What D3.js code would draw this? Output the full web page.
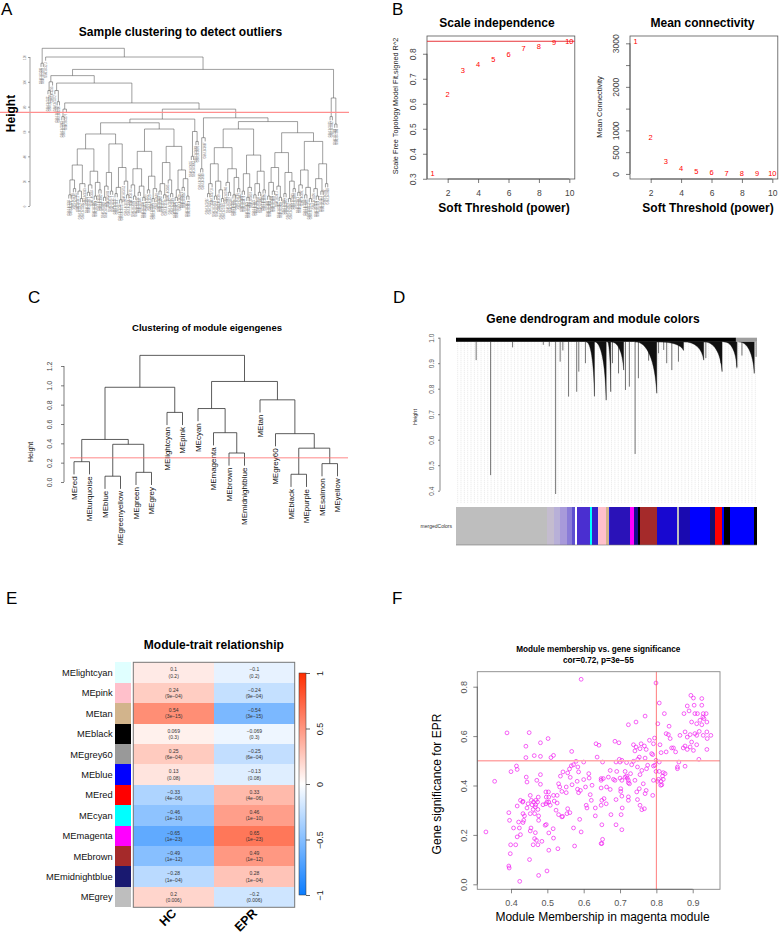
<!DOCTYPE html>
<html>
<head>
<meta charset="utf-8">
<script src="https://cdn.jsdelivr.net/npm/d3@7/dist/d3.min.js"></script>
<style>
  body { margin: 0; background: #fff; }
  svg { font-family: "Liberation Sans", Arial, Helvetica, sans-serif; display: block; }
</style>
</head>
<body>
<div id="figure"></div>
<script>
// ================= data =================

// A: sample clustering (heights in plot units)
const treeP = "((((x,x)9,(x,x)14)21,((x,(x,x)6)12,x)18)33,(((x,x)11,x)17,((x,x)8,(x,x)13)19)28)46";
const treeQ = "((((x,x)7,x)16,(x,x)12)27,(((x,x)10,(x,x)5)15,(x,(x,x)9)20)31)50";
const treeR = "(((x,(x,x)8)17,((x,x)11,(x,x)7)16)30,((x,x)13,((x,x)6,x)14)24)44";
const treeS = "((((x,x)12,(x,x)9)18,(x,(x,x)10)21)35,(((x,x)7,x)13,((x,x)15,(x,x)8)22)29)48";
const treeT = "((((x,x)10,x)18,((x,x)8,(x,(x,x)6)13)20)34,((x,(x,x)11)19,((x,x)9,(x,x)14)23)30)47";
const treeU = "(((x,x)12,((x,x)7,x)15)26,(((x,x)9,(x,x)11)18,(x,x)13)28)41";
const treeV = "((((x,x)8,(x,x)12)19,(x,(x,x)7)16)31,((x,x)10,((x,x)6,(x,x)14)20)27)43";
const treeW = "((((x,x)11,x)17,((x,x)9,(x,x)6)15)29,(((x,(x,x)8)14,(x,x)12)22,(x,x)18)34)52";
const treeD1 = `(((${treeP},${treeQ})58,(${treeR},${treeS})62)67,((x,x)40,(x,x)52)60)70`;
const treeD2 = `(((x,x)30,x)55,((${treeT},${treeU})62,(${treeV},${treeW})59)68)71`;
const treeMain = `(((x,x)93,x)100,((x,(x,x)84)93,(((x,x)72,x)78,(${treeD1},${treeD2})78)83)99)105`;
const sampleTree = `((x,x)115,(x,(${treeMain},((x,x)72,(x,x)66)87)110)120)127`;
const sampleTicks = [0, 20, 40, 60, 80, 100, 120];
const sampleCut = 75.4;

// B: soft threshold
const powers = [1, 2, 3, 4, 5, 6, 7, 8, 9, 10];
const scaleFitR2 = [0.32, 0.639, 0.732, 0.759, 0.779, 0.799, 0.821, 0.831, 0.845, 0.848];
const meanConnectivity = [3046, 836, 292, 122, 53, 30, 23, 12, 8, 5];
const r2Cut = 0.85;
const r2Ticks = [0.3, 0.4, 0.5, 0.6, 0.7, 0.8];
const kTicks = [0, 500, 1000, 1500, 2000, 2500, 3000];
const powerTicks = [2, 4, 6, 8, 10];

// C: module eigengene clustering
const eigengeneTree = "((((MEred,MEturquoise)0.21,((MEblue,MEgreenyellow)0.06,(MEgreen,MEgrey)0.10)0.39)0.44,(MElightcyan,MEpink)0.72)0.98,((MEcyan,(MEmagenta,(MEbrown,MEmidnightblue)0.30)0.51)0.76,(MEtan,(MEgrey60,((MEblack,MEpurple)0.08,(MEsalmon,MEyellow)0.19)0.35)0.50)0.85)1.04)1.31";
const mergeCut = 0.25;
const eigenTicks = [0, 0.2, 0.4, 0.6, 0.8, 1.0, 1.2];

// D: gene dendrogram (position along gene order 0..1, lowest height)
const geneDrops = [
  [0.067, 0.912], [0.115, 0.461], [0.188, 0.962], [0.29, 0.972], [0.31, 0.966], [0.331, 0.387],
  [0.346, 0.906], [0.355, 0.95], [0.374, 0.769], [0.401, 0.788], [0.408, 0.867], [0.43, 0.9],
  [0.52, 0.9], [0.54, 0.86], [0.563, 0.795], [0.576, 0.808], [0.595, 0.544], [0.606, 0.841],
  [0.64, 0.91], [0.673, 0.939], [0.69, 0.952], [0.70, 0.9], [0.717, 0.873], [0.739, 0.906],
  [0.83, 0.92], [0.88, 0.90], [0.933, 0.880], [0.95, 0.93], [0.997, 0.925]
];
const geneClusters = [
  [0.432, 0.46, 0.77], [0.46, 0.499, 0.755], [0.503, 0.514, 0.788], [0.514, 0.557, 0.873],
  [0.595, 0.667, 0.782], [0.667, 0.756, 0.95], [0.756, 0.823, 0.912], [0.823, 0.884, 0.867],
  [0.889, 0.933, 0.886], [0.939, 0.991, 0.86]
];
const geneTopBand = [[0, 0.93, "#000000"], [0.93, 1, "#9e9e9e"]];
const geneTicks = [0.4, 0.5, 0.6, 0.7, 0.8, 0.9, 1.0];
const moduleStrip = [
  [0, 0.302, "#BEBEBE"], [0.302, 0.324, "#C4BCCF"], [0.324, 0.346, "#B8B0D8"], [0.346, 0.368, "#A89ADA"],
  [0.368, 0.385, "#8A7CD8"], [0.385, 0.396, "#5E4FD0"], [0.396, 0.401, "#FFFFFF"], [0.401, 0.446, "#4A2FD0"],
  [0.446, 0.453, "#00FFFF"], [0.453, 0.473, "#3322CC"], [0.473, 0.499, "#FFC0CB"], [0.499, 0.507, "#D2B48C"],
  [0.507, 0.512, "#2020E0"], [0.512, 0.579, "#2A12B8"], [0.579, 0.593, "#FF00FF"], [0.593, 0.603, "#1A0A90"],
  [0.603, 0.612, "#000000"], [0.612, 0.667, "#A52A2A"], [0.667, 0.734, "#1808D0"], [0.734, 0.741, "#BEBEBE"],
  [0.741, 0.778, "#1A0AB0"], [0.778, 0.845, "#0000FF"], [0.845, 0.861, "#141070"], [0.861, 0.884, "#FF0000"],
  [0.884, 0.892, "#0000FF"], [0.892, 0.911, "#000000"], [0.911, 0.989, "#0000FF"], [0.989, 1, "#000000"]
];

// E: module-trait relationship
const modules = ["MElightcyan", "MEpink", "MEtan", "MEblack", "MEgrey60", "MEblue", "MEred", "MEcyan", "MEmagenta", "MEbrown", "MEmidnightblue", "MEgrey"];
const moduleColors = ["#E0FFFF", "#FFC0CB", "#D2B48C", "#000000", "#999999", "#0000FF", "#FF0000", "#00FFFF", "#FF00FF", "#A52A2A", "#191970", "#BEBEBE"];
const traits = ["HC", "EPR"];
const corHC = [0.1, 0.24, 0.54, 0.069, 0.25, 0.13, -0.33, -0.46, -0.65, -0.49, -0.28, 0.2];
const corEPR = [-0.1, -0.24, -0.54, -0.069, -0.25, -0.13, 0.33, 0.46, 0.65, 0.49, 0.28, -0.2];
const pTrait = ["0.2", "9e-04", "3e-15", "0.3", "6e-04", "0.08", "4e-06", "1e-10", "1e-23", "1e-12", "1e-04", "0.006"];
const legendTicks = [-1, -0.5, 0, 0.5, 1];

// F: module membership vs gene significance (magenta module)
const membership = [
  0.593,0.389,0.450,0.481,0.502,0.441,0.464,0.481,0.441,0.510,0.517,0.567,0.634,0.642,0.637,0.415,0.417,0.400,0.355,0.442,
  0.444,0.481,0.471,0.481,0.531,0.536,0.543,0.556,0.561,0.566,0.572,0.579,0.600,0.584,0.586,0.563,0.582,0.600,0.614,0.615,
  0.623,0.605,0.583,0.586,0.591,0.568,0.552,0.534,0.540,0.552,0.527,0.517,0.503,0.496,0.504,0.499,0.496,0.508,0.488,0.475,
  0.473,0.468,0.462,0.458,0.453,0.467,0.474,0.461,0.444,0.433,0.426,0.417,0.433,0.437,0.453,0.465,0.476,0.476,0.435,0.433,
  0.421,0.396,0.394,0.407,0.423,0.455,0.453,0.467,0.494,0.497,0.516,0.504,0.426,0.417,0.331,0.465,0.470,0.517,0.485,0.474,
  0.461,0.399,0.413,0.504,0.529,0.575,0.398,0.451,0.394,0.395,0.499,0.476,0.424,0.540,0.542,0.531,0.524,0.554,0.556,0.562,
  0.572,0.593,0.589,0.607,0.609,0.621,0.618,0.632,0.648,0.648,0.648,0.648,0.632,0.432,0.447,0.456,0.468,0.497,0.504,0.519,
  0.527,
  0.799,0.808,0.895,0.902,0.925,0.885,0.904,0.925,0.876,0.890,0.822,0.769,0.906,0.913,0.929,0.937,0.928,0.931,0.920,0.897,
  0.911,0.939,0.925,0.744,0.723,0.804,0.835,0.827,0.833,0.838,0.865,0.879,0.885,0.893,0.897,0.906,0.911,0.918,0.929,0.939,
  0.950,0.940,0.911,0.893,0.885,0.874,0.879,0.902,0.939,0.879,0.917,0.862,0.858,0.858,0.842,0.847,0.853,0.827,0.813,0.810,
  0.795,0.792,0.781,0.767,0.772,0.787,0.790,0.758,0.744,0.737,0.741,0.755,0.686,0.697,0.753,0.769,0.749,0.737,0.732,0.799,
  0.796,0.808,0.776,0.773,0.792,0.698,0.705,0.700,0.689,0.652,0.718,0.748,0.760,0.799,0.808,0.819,0.824,0.817,0.819,0.813,
  0.806,0.803,0.815,0.792,0.812,0.673,0.691,0.714,0.729,0.755,0.718,0.714,0.720,0.700,0.686,0.668,0.654,0.682,0.723,0.705,
  0.741,0.764,0.723,0.726,0.648,0.663,0.673,0.702,0.753,0.772,0.702,0.705,0.746,0.769,0.790,0.723,0.723,0.748,0.689,0.656,
  0.650,0.662,0.755,0.706,0.760,0.767,0.675,0.703,0.650,0.689,0.705,0.652,0.650
];
const significance = [
  0.830,0.613,0.614,0.573,0.590,0.559,0.521,0.518,0.513,0.513,0.522,0.538,0.569,0.563,0.515,0.479,0.465,0.456,0.417,0.434,
  0.414,0.444,0.421,0.405,0.407,0.438,0.455,0.451,0.467,0.480,0.484,0.498,0.495,0.475,0.455,0.433,0.417,0.424,0.448,0.430,
  0.401,0.394,0.385,0.371,0.380,0.403,0.394,0.394,0.376,0.371,0.360,0.360,0.374,0.374,0.353,0.333,0.326,0.320,0.322,0.353,
  0.333,0.340,0.333,0.322,0.360,0.313,0.303,0.303,0.309,0.336,0.340,0.317,0.286,0.277,0.286,0.286,0.277,0.259,0.259,0.250,
  0.252,0.259,0.290,0.228,0.228,0.228,0.216,0.209,0.239,0.242,0.225,0.208,0.201,0.192,0.212,0.185,0.178,0.187,0.174,0.160,
  0.160,0.160,0.160,0.138,0.144,0.155,0.124,0.100,0.074,0.066,0.054,0.036,0.012,0.273,0.275,0.282,0.300,0.286,0.306,0.290,
  0.228,0.212,0.263,0.320,0.309,0.340,0.363,0.277,0.390,0.428,0.320,0.165,0.309,0.333,0.326,0.340,0.322,0.353,0.333,0.337,
  0.329,
  0.815,0.734,0.765,0.754,0.752,0.722,0.725,0.725,0.691,0.702,0.691,0.681,0.691,0.691,0.691,0.691,0.677,0.671,0.664,0.657,
  0.650,0.657,0.646,0.657,0.646,0.650,0.640,0.610,0.606,0.590,0.603,0.617,0.596,0.606,0.576,0.610,0.603,0.619,0.603,0.617,
  0.603,0.590,0.565,0.556,0.546,0.552,0.560,0.542,0.546,0.478,0.506,0.495,0.468,0.475,0.552,0.552,0.536,0.536,0.533,0.565,
  0.592,0.569,0.583,0.560,0.546,0.529,0.525,0.569,0.556,0.565,0.540,0.549,0.579,0.573,0.515,0.511,0.506,0.498,0.484,0.502,
  0.482,0.495,0.482,0.468,0.479,0.506,0.502,0.495,0.495,0.495,0.493,0.475,0.461,0.457,0.457,0.452,0.448,0.438,0.425,0.417,
  0.425,0.417,0.403,0.421,0.401,0.461,0.457,0.457,0.448,0.444,0.438,0.434,0.430,0.430,0.421,0.434,0.428,0.425,0.421,0.421,
  0.421,0.407,0.411,0.407,0.421,0.394,0.384,0.387,0.387,0.380,0.376,0.357,0.374,0.367,0.360,0.354,0.340,0.343,0.343,0.347,
  0.340,0.326,0.320,0.309,0.302,0.306,0.282,0.282,0.241,0.241,0.221,0.182,0.165
];
const mmTicks = [0.4, 0.5, 0.6, 0.7, 0.8, 0.9];
const gsTicks = [0, 0.2, 0.4, 0.6, 0.8];
const mmCut = 0.8, gsCut = 0.5;

// ================= helpers =================
const svg = d3.select("#figure").append("svg")
  .attr("width", 779).attr("height", 935)
  .style("background", "#fff");

function txt(g, x, y, s, { fs = 10, w = "normal", anchor = "middle", fill = "#000", rot = 0 } = {}) {
  return g.append("text")
    .attr("transform", `translate(${x},${y})` + (rot ? ` rotate(${rot})` : ""))
    .attr("text-anchor", anchor)
    .style("font-size", fs + "px")
    .style("font-weight", w)
    .attr("fill", fill)
    .text(s);
}

function parseTree(s) {
  let i = 0;
  function node() {
    if (s[i] === "(") {
      i++;
      const a = node(); i++;          // ','
      const b = node(); i++;          // ')'
      let j = i;
      while (j < s.length && /[0-9.]/.test(s[j])) j++;
      const h = +s.slice(i, j); i = j;
      return { h, children: [a, b] };
    }
    let j = i;
    while (j < s.length && !/[,()]/.test(s[j])) j++;
    const name = s.slice(i, j); i = j;
    return { name };
  }
  return node();
}

function collectLeaves(root) {
  const leaves = [];
  (function walk(n) {
    if (n.children) n.children.forEach(walk);
    else { n.index = leaves.length; leaves.push(n); }
  })(root);
  return leaves;
}

// R-style dendrogram: node sits at the midpoint of its children, leaves hang
function drawTree(g, root, x, y, hang, color, width) {
  (function pos(n) {
    if (n.children) { n.children.forEach(pos); n.x = d3.mean(n.children, c => c.x); }
    else n.x = x(n.index);
  })(root);
  const segs = [];
  (function walk(n) {
    if (!n.children) return;
    const [a, b] = n.children;
    segs.push([a.x, n.h, b.x, n.h]);
    n.children.forEach(c => {
      c.end = c.children ? c.h : n.h - hang;
      segs.push([c.x, n.h, c.x, c.end]);
      walk(c);
    });
  })(root);
  g.append("path")
    .attr("d", segs.map(([x1, h1, x2, h2]) => `M${x1},${y(h1)}L${x2},${y(h2)}`).join(""))
    .attr("fill", "none")
    .attr("stroke", color)
    .attr("stroke-width", width);
}

function styleAxis(a, fs, color) {
  a.attr("font-size", fs).attr("font-family", null);
  a.selectAll("line").attr("stroke", color).attr("stroke-width", 0.7);
  a.select(".domain").attr("stroke", color).attr("stroke-width", 0.7);
  a.selectAll("text").attr("fill", color);
}

function leftAxis(g, scale, ticks, x, { tick = 4, off = 11, fs = 8, fmt = d3.format(".1f"), color = "#444" } = {}) {
  const a = g.append("g").attr("transform", `translate(${x},0)`)
    .call(d3.axisLeft(scale).tickValues(ticks).tickFormat(fmt).tickSize(tick).tickSizeOuter(0));
  a.select(".domain").attr("d", `M0,${scale(ticks[0])}V${scale(ticks[ticks.length - 1])}`);
  styleAxis(a, fs, color);
  a.selectAll(".tick text")
    .attr("transform", "rotate(-90)")
    .attr("x", 0).attr("y", -off).attr("dy", 0)
    .attr("text-anchor", "middle");
  return a;
}

function bottomAxis(g, scale, ticks, y, { tick = 4, off = 16, fs = 8, fmt = d3.format("d"), color = "#444" } = {}) {
  const a = g.append("g").attr("transform", `translate(0,${y})`)
    .call(d3.axisBottom(scale).tickValues(ticks).tickFormat(fmt).tickSize(tick).tickSizeOuter(0));
  a.select(".domain").attr("d", `M${scale(ticks[0])},0H${scale(ticks[ticks.length - 1])}`);
  styleAxis(a, fs, color);
  a.selectAll(".tick text").attr("y", off).attr("dy", 0);
  return a;
}

const minus = s => String(s).replace(/-/g, "\u2212");

// panel letters
[["A", 1, 15], ["B", 392, 15], ["C", 28, 303], ["D", 393, 303], ["E", 6, 604], ["F", 392, 604]]
  .forEach(([s, x, y]) => txt(svg, x, y, s, { fs: 17, anchor: "start" }));

// ================= A =================
const gA = svg.append("g");
const rootA = parseTree(sampleTree);
const leavesA = collectLeaves(rootA);
const xA = d3.scaleLinear().domain([0, leavesA.length - 1]).range([41, 337]);
const yA = d3.scaleLinear().domain([0, 120]).range([206, 57]);
drawTree(gA, rootA, xA, yA, 3, "#505050", 0.55);
gA.selectAll(".leaf").data(leavesA).join("text")
  .attr("transform", d => `translate(${xA(d.index) + 0.9},${yA(d.end) + 1}) rotate(-90)`)
  .attr("text-anchor", "end")
  .style("font-size", "2.6px")
  .attr("fill", "#6a6a6a")
  .text(d => "GSM" + (1843200 + d.index * 7));
leftAxis(gA, yA, sampleTicks, 30, { tick: 2, off: 4, fs: 3, fmt: d3.format("d"), color: "#777" });
gA.append("line").attr("x1", 0).attr("x2", 349)
  .attr("y1", yA(sampleCut)).attr("y2", yA(sampleCut))
  .attr("stroke", "#FF8F8F").attr("stroke-width", 1.2);
txt(gA, 180.5, 36, "Sample clustering to detect outliers", { fs: 12, w: "bold" });
txt(gA, 15, 113.5, "Height", { fs: 12, w: "bold", rot: -90 });

// ================= B =================
const gB = svg.append("g");
const boxB = (g, x, y) => g.append("rect")
  .attr("x", x.range()[0]).attr("y", y.range()[1])
  .attr("width", x.range()[1] - x.range()[0]).attr("height", y.range()[0] - y.range()[1])
  .attr("fill", "none").attr("stroke", "#555").attr("stroke-width", 0.8);

const xB1 = d3.scaleLinear().domain([0.64, 10.36]).range([427, 574.8]);
const yB1 = d3.scaleLinear().domain([0.299, 0.871]).range([179, 36]);
boxB(gB, xB1, yB1);
bottomAxis(gB, xB1, powerTicks, 179, { off: 16.7, fs: 8.5 });
leftAxis(gB, yB1, r2Ticks, 427, { off: 10.7, fs: 8.5 });
gB.append("line").attr("x1", xB1.range()[0]).attr("x2", xB1.range()[1])
  .attr("y1", yB1(r2Cut)).attr("y2", yB1(r2Cut))
  .attr("stroke", "#E8343A").attr("stroke-width", 1);
gB.append("g").selectAll("text").data(powers).join("text")
  .attr("x", d => xB1(d)).attr("y", (d, i) => yB1(scaleFitR2[i]))
  .attr("dy", "0.35em").attr("text-anchor", "middle")
  .style("font-size", "7.5px").attr("fill", "#FF0000").text(d => d);
txt(gB, 497, 27, "Scale independence", { fs: 12, w: "bold" });
txt(gB, 504, 212, "Soft Threshold (power)", { fs: 12, w: "bold" });
txt(gB, 398, 106, "Scale Free Topology Model Fit,signed R^2", { fs: 7.3, rot: -90, fill: "#222" });

const xB2 = d3.scaleLinear().domain([0.64, 10.36]).range([630, 777.8]);
const yB2 = d3.scaleLinear().domain([-117, 3168]).range([179, 36]);
boxB(gB, xB2, yB2);
bottomAxis(gB, xB2, powerTicks, 179, { off: 16.7, fs: 8.5 });
leftAxis(gB, yB2, kTicks, 630, { off: 10.7, fs: 8.5, fmt: d => (d === 1500 || d === 2500) ? "" : d });
gB.append("g").selectAll("text").data(powers).join("text")
  .attr("x", d => xB2(d)).attr("y", (d, i) => yB2(meanConnectivity[i]))
  .attr("dy", "0.35em").attr("text-anchor", "middle")
  .style("font-size", "7.5px").attr("fill", "#FF0000").text(d => d);
txt(gB, 702.5, 27, "Mean connectivity", { fs: 12, w: "bold" });
txt(gB, 708, 212, "Soft Threshold (power)", { fs: 12, w: "bold" });
txt(gB, 601.5, 107, "Mean Connectivity", { fs: 7.5, rot: -90, fill: "#222" });

// ================= C =================
const gC = svg.append("g");
const rootC = parseTree(eigengeneTree);
const leavesC = collectLeaves(rootC);
const xC = d3.scaleLinear().domain([0, leavesC.length - 1]).range([74, 337.5]);
const yC = d3.scaleLinear().domain([0, 1.2]).range([482, 366]);
drawTree(gC, rootC, xC, yC, 0.131, "#333", 0.8);
gC.selectAll(".leaf").data(leavesC).join("text")
  .attr("transform", d => `translate(${xC(d.index) + 2.9},${yC(d.end) + 2}) rotate(-90)`)
  .attr("text-anchor", "end")
  .style("font-size", "8px")
  .attr("fill", "#111")
  .text(d => d.name);
leftAxis(gC, yC, eigenTicks, 64, { tick: 3, off: 12, fs: 7, color: "#444" });
gC.append("line").attr("x1", 70).attr("x2", 348)
  .attr("y1", yC(mergeCut)).attr("y2", yC(mergeCut))
  .attr("stroke", "#FF6A6A").attr("stroke-width", 0.8);
txt(gC, 207, 331, "Clustering of module eigengenes", { fs: 9.5, w: "bold" });
txt(gC, 33, 452, "Height", { fs: 7, rot: -90, fill: "#222" });

// ================= D =================
const gD = svg.append("g");
const xD = d3.scaleLinear().domain([0, 1]).range([456, 757]);
const yD = d3.scaleLinear().domain([0.4, 1.0]).range([490.7, 337.7]);
const bandLow = 0.984;
// dotted guide lines
gD.append("g").selectAll("line").data(d3.range(90)).join("line")
  .attr("x1", i => xD((i + 0.5) / 90)).attr("x2", i => xD((i + 0.5) / 90))
  .attr("y1", yD(bandLow)).attr("y2", 503)
  .attr("stroke", "#cfcfcf").attr("stroke-width", 0.5).attr("stroke-dasharray", "1,1");
gD.append("g").selectAll("line").data(geneDrops).join("line")
  .attr("x1", d => xD(d[0])).attr("x2", d => xD(d[0]))
  .attr("y1", yD(bandLow)).attr("y2", d => yD(d[1]))
  .attr("stroke", "#3a3a3a").attr("stroke-width", 0.7);
gD.append("g").selectAll("path").data(geneClusters).join("path")
  .attr("d", ([f0, f1, h]) => {
    const x0 = xD(f0), x1 = xD(f1), yt = yD(bandLow), yb = yD(h), w = x1 - x0;
    return `M${x0},${yt}C${x0 + w * 0.55},${yt} ${x1 - w * 0.08},${yt + (yb - yt) * 0.35} ${x1},${yb}L${x1},${yt}Z`;
  })
  .attr("fill", "#111").attr("stroke", "#111").attr("stroke-width", 0.4);
gD.append("g").selectAll("rect").data(geneTopBand).join("rect")
  .attr("x", d => xD(d[0])).attr("width", d => xD(d[1]) - xD(d[0]))
  .attr("y", yD(1.0)).attr("height", yD(bandLow) - yD(1.0))
  .attr("fill", d => d[2]);
leftAxis(gD, yD, geneTicks, 440, { tick: 2, off: 6, fs: 6.5, color: "#555" });
gD.append("g").selectAll("rect").data(moduleStrip).join("rect")
  .attr("x", d => xD(d[0])).attr("width", d => xD(d[1]) - xD(d[0]))
  .attr("y", 506.7).attr("height", 38.3)
  .attr("fill", d => d[2]).attr("shape-rendering", "crispEdges");
gD.append("line").attr("x1", xD(0)).attr("x2", xD(1)).attr("y1", 545).attr("y2", 545)
  .attr("stroke", "#777").attr("stroke-width", 0.6);
txt(gD, 452, 528, "mergedColors", { fs: 5, anchor: "end", fill: "#333" });
txt(gD, 593, 323, "Gene dendrogram and module colors", { fs: 12, w: "bold" });
txt(gD, 417, 417, "Height", { fs: 5.5, rot: -90, fill: "#333" });

// ================= E =================
const gE = svg.append("g");
const yE = d3.scaleBand().domain(modules).range([662.3, 907.3]);
const xE = d3.scaleBand().domain(traits).range([133.3, 294.7]);
const heat = d3.scaleLinear().domain([-1, 0, 1]).range(["#0A7CFF", "#FFFFFF", "#FF2D00"]);
const cells = modules.flatMap((m, i) => [
  { m, t: "HC", r: corHC[i], p: pTrait[i] },
  { m, t: "EPR", r: corEPR[i], p: pTrait[i] }
]);
gE.append("g").selectAll("rect").data(modules).join("rect")
  .attr("x", 115).attr("width", 16)
  .attr("y", d => yE(d)).attr("height", yE.bandwidth())
  .attr("fill", (d, i) => moduleColors[i]).attr("shape-rendering", "crispEdges");
gE.append("g").selectAll("rect").data(cells).join("rect")
  .attr("x", d => xE(d.t)).attr("width", xE.bandwidth())
  .attr("y", d => yE(d.m)).attr("height", yE.bandwidth())
  .attr("fill", d => heat(d.r)).attr("shape-rendering", "crispEdges");
const cellText = gE.append("g").selectAll("g").data(cells).join("g")
  .attr("transform", d => `translate(${xE(d.t) + xE.bandwidth() / 2},${yE(d.m) + yE.bandwidth() / 2})`)
  .attr("text-anchor", "middle").attr("fill", "#333").style("font-size", "5px");
cellText.append("text").attr("y", -1.2).text(d => minus(d.r));
cellText.append("text").attr("y", 5).text(d => `(${minus(d.p)})`);
gE.append("rect").attr("x", 133.3).attr("y", 662.3).attr("width", 161.4).attr("height", 245)
  .attr("fill", "none").attr("stroke", "#777").attr("stroke-width", 1);
gE.append("g").selectAll("text").data(modules).join("text")
  .attr("x", 112.7).attr("y", d => yE(d) + yE.bandwidth() / 2 + 3.4)
  .attr("text-anchor", "end").style("font-size", "9.3px").attr("fill", "#111")
  .text(d => d);
traits.forEach(t => txt(gE, xE(t) + xE.bandwidth() / 2 + 3.5, 914, t, { fs: 12.5, w: "bold", anchor: "end", rot: -45 }));
txt(gE, 213.8, 649, "Module-trait relationship", { fs: 12, w: "bold" });

// colour legend
const yLeg = d3.scaleLinear().domain([-1, 1]).range([895, 673]);
const grad = svg.append("defs").append("linearGradient").attr("id", "heatGrad")
  .attr("x1", 0).attr("y1", 1).attr("x2", 0).attr("y2", 0);
grad.selectAll("stop").data([-1, -0.5, 0, 0.5, 1]).join("stop")
  .attr("offset", d => (d + 1) / 2).attr("stop-color", d => heat(d));
gE.append("rect").attr("x", 299).attr("width", 7)
  .attr("y", yLeg(1)).attr("height", yLeg(-1) - yLeg(1))
  .attr("fill", "url(#heatGrad)").attr("stroke", "#333").attr("stroke-width", 0.5);
const legAx = gE.append("g").attr("transform", "translate(306,0)")
  .call(d3.axisRight(yLeg).tickValues(legendTicks).tickFormat(d => minus(d)).tickSize(4).tickSizeOuter(0));
legAx.select(".domain").remove();
styleAxis(legAx, 9, "#222");
legAx.selectAll(".tick text").attr("transform", "rotate(-90)")
  .attr("x", 0).attr("y", 17.2).attr("dy", 0).attr("text-anchor", "middle");

// ================= F =================
const gF = svg.append("g");
const xF = d3.scaleLinear().domain([0.4, 0.9]).range([511, 692.7]);
const yF = d3.scaleLinear().domain([0, 0.8]).range([884.3, 686.7]);
const fx0 = 477.3, fx1 = 720, fy0 = 671.7, fy1 = 889.3;
gF.append("g").selectAll("circle").data(membership).join("circle")
  .attr("cx", d => xF(d)).attr("cy", (d, i) => yF(significance[i]))
  .attr("r", 1.9).attr("fill", "none").attr("stroke", "#F020F0").attr("stroke-width", 0.7);
gF.append("line").attr("x1", fx0).attr("x2", fx1).attr("y1", yF(gsCut)).attr("y2", yF(gsCut))
  .attr("stroke", "#FFA8A8").attr("stroke-width", 1.6);
gF.append("line").attr("x1", xF(mmCut)).attr("x2", xF(mmCut)).attr("y1", fy0).attr("y2", fy1)
  .attr("stroke", "#FF5A5A").attr("stroke-width", 0.8);
gF.append("rect").attr("x", fx0).attr("y", fy0).attr("width", fx1 - fx0).attr("height", fy1 - fy0)
  .attr("fill", "none").attr("stroke", "#888").attr("stroke-width", 0.9);
bottomAxis(gF, xF, mmTicks, fy1, { off: 16.7, fs: 9, fmt: d3.format(".1f"), color: "#555" });
leftAxis(gF, yF, gsTicks, fx0, { off: 10.3, fs: 9, color: "#555" });
txt(gF, 598.3, 652, "Module membership vs. gene significance", { fs: 8.2, w: "bold" });
txt(gF, 598.3, 662.7, "cor=0.72, p=3e\u221255", { fs: 8.2, w: "bold" });
txt(gF, 602.5, 921, "Module Membership in magenta module", { fs: 12 });
txt(gF, 441, 784, "Gene significance for EPR", { fs: 12, rot: -90 });
</script>
</body>
</html>
